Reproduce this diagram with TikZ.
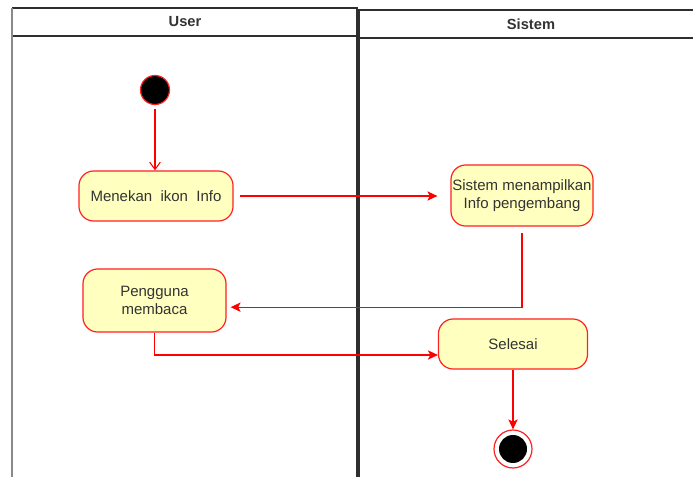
\documentclass[tikz,border=0pt]{standalone}
\usepackage{fontspec}
\setmainfont{Liberation Sans}
\usetikzlibrary{arrows.meta,calc}
\definecolor{actfill}{HTML}{FFFFC0}
\definecolor{actline}{HTML}{FF2020}
\definecolor{flow}{HTML}{FF0000}
\definecolor{lane}{HTML}{2E2E2E}
\definecolor{laneside}{HTML}{8A8A8A}
\definecolor{txt}{HTML}{333333}
\tikzset{
  activity/.style={draw=actline, fill=actfill, line width=0.9pt, rounded corners=11pt,
    align=center, text=txt, inner sep=0pt,
    font=\fontsize{11.25pt}{13.5pt}\selectfont},
  startnode/.style={circle, draw=actline, fill=black, line width=0.9pt,
    minimum size=21.75pt, inner sep=0pt},
  endring/.style={circle, draw=actline, fill=white, line width=0.9pt,
    minimum size=28.5pt, inner sep=0pt},
  enddot/.style={circle, fill=black, minimum size=21pt, inner sep=0pt},
  flowline/.style={draw=flow, line width=0.8pt, -{Stealth[length=7.5pt,width=7pt,inset=1.8pt]}},
  openflow/.style={draw=flow, line width=0.8pt, -{Straight Barb[length=5.5pt,width=8pt,line width=0.8pt]}},
  laneline/.style={draw=lane, line width=1.1pt},
  lanehead/.style={text=txt, font=\bfseries\fontsize{11pt}{13pt}\selectfont}
}
\begin{document}
\begin{tikzpicture}[x=0.75pt,y=-0.75pt]
  \useasboundingbox (0,0) rectangle (693,477);
  \fill[white] (0,0) rectangle (693,477);

  % swimlanes
  \draw[laneline] (12,8) -- (357,8) -- (357,477);
  \draw[laneline] (12,36) -- (357,36);
  \draw[draw=laneside, line width=1.3pt] (12,8) -- (12,477);
  \draw[laneline] (359,477) -- (359,10) -- (693,10);
  \draw[laneline] (359,38) -- (693,38);
  \node[lanehead] (userhead) at (185,22) {User};
  \node[lanehead] (sistemhead) at (531,24) {Sistem};

  % activity nodes
  \node[startnode] (start) at (155,90) {};
  \node[activity, minimum width=115.5pt, minimum height=37.5pt] (menekan) at (156,196)
    {Menekan\ \ ikon\ \ Info};
  \node[activity, minimum width=106.5pt, minimum height=45.75pt] (tampil) at (522,195.5)
    {Sistem menampilkan\\Info pengembang};
  \node[activity, minimum width=107.25pt, minimum height=47.25pt] (baca) at (154.5,300.5)
    {Pengguna\\membaca};
  \node[activity, minimum width=111.75pt, minimum height=37.5pt] (selesai) at (513,344)
    {Selesai};
  \node[endring] (final) at (513,449) {};
  \node[enddot] (finaldot) at (final.center) {};

  % control flows
  \draw[openflow, shorten <=3pt] (start.south) -- (start.south |- menekan.north);
  \draw[flowline, shorten <=4.5pt, shorten >=9.75pt] (menekan.east) -- (tampil.west |- menekan.east);
  \draw[flowline, shorten <=5pt, shorten >=3pt] (tampil.south) |- ([yshift=-5pt]baca.east);
  \draw[flowline] (baca.south) |- ([yshift=-8.25pt]selesai.west);
  \draw[flowline] (selesai.south) -- (final.north);
\end{tikzpicture}
\end{document}
